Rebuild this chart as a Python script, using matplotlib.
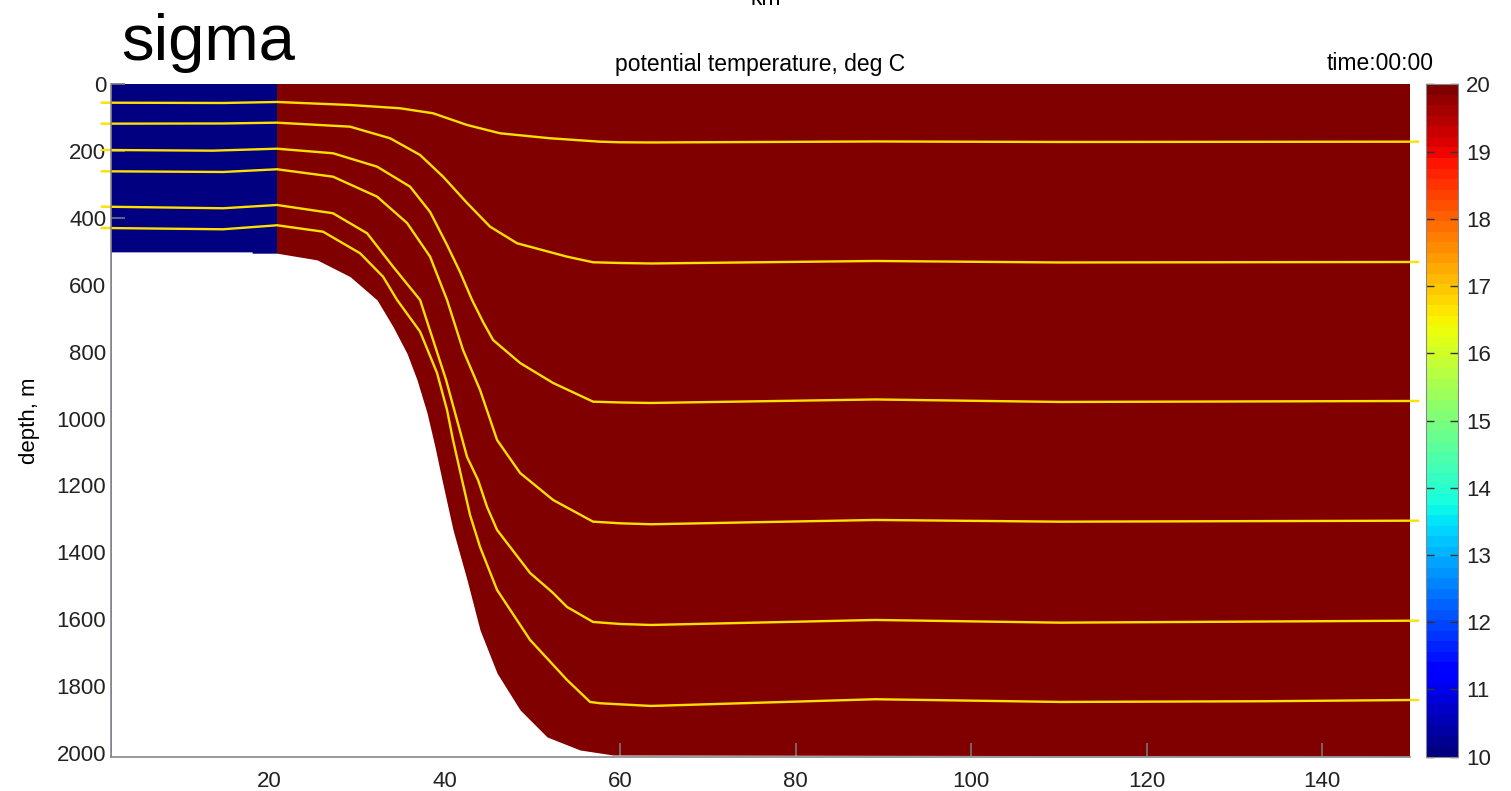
import numpy as np
import matplotlib
matplotlib.use("Agg")
import matplotlib.pyplot as plt

plt.rcParams['font.family'] = ['Liberation Sans', 'DejaVu Sans']

# temperature section: column edges (km) and values (deg C)
section_x = [2.0, 20.85, 150.0]
section_temp = [10, 20]
depth_edges = [0, 2012]

# bottom topography (km, m)
bathy_x = [2.0, 18.07, 18.07, 20.91, 25.47, 29.23, 32.31, 34.13, 35.72, 36.86, 38.0,
           38.91, 39.71, 40.96, 42.56, 44.04, 45.98, 48.6, 51.68, 55.43, 59.2, 150.0]
bathy_d = [501, 501, 505, 505, 525, 575, 645, 725, 805, 884, 983,
           1085, 1184, 1333, 1483, 1633, 1762, 1872, 1953, 1992, 2007, 2010]

# sigma levels
s1_x = [0.94, 14.76, 20.91, 29.23, 34.93, 38.69, 42.56, 46.32, 52.02, 57.71, 59.99, 63.52, 89.05, 110.12, 150.91]
s1_d = [54.5, 55.4, 52.4, 61.4, 71.2, 86.2, 121.2, 146.1, 161.0, 171.2, 173.0, 173.6, 170.6, 172.1, 171.2]

s2_x = [0.94, 14.76, 20.91, 29.23, 33.79, 37.21, 39.83, 42.56, 45.18, 48.26, 53.95, 56.92, 59.99, 63.52, 89.05, 110.12, 150.91]
s2_d = [117.3, 116.7, 114.3, 126.3, 161.0, 211.0, 276.0, 354.7, 425.6, 475.3, 515.4, 532.2, 534.3, 535.8, 528.3, 532.8, 531.3]

s3_x = [0.94, 13.62, 20.91, 27.29, 32.31, 36.07, 38.35, 40.28, 41.76, 43.13, 44.38, 45.52, 48.60, 52.36, 56.92, 59.99, 63.52, 89.05, 110.12, 150.91]
s3_d = [196.0, 198.1, 192.2, 205.9, 246.0, 305.9, 381.6, 480.4, 561.2, 645.0, 710.8, 764.7, 833.6, 893.4, 949.4, 951.8, 953.3, 942.8, 950.3, 947.3]

s4_x = [0.94, 14.76, 20.91, 27.29, 32.31, 35.72, 38.35, 40.28, 42.10, 44.04, 45.98, 48.60, 52.36, 56.92, 59.99, 63.52, 75.14, 89.05, 110.12, 150.91]
s4_d = [259.8, 261.9, 253.8, 276.0, 335.8, 414.5, 515.4, 645.0, 794.7, 914.4, 1064.1, 1162.8, 1243.6, 1308.6, 1313.4, 1316.4, 1310.4, 1303.5, 1308.6, 1305.6]

s5_x = [0.94, 14.76, 20.91, 27.29, 31.17, 34.13, 37.21, 38.69, 40.17, 42.56, 43.81, 44.84, 45.98, 48.60, 49.74, 52.36, 53.95, 56.92, 59.99, 63.52, 89.05, 110.12, 150.91]
s5_d = [365.7, 370.5, 360.7, 385.5, 445.4, 545.3, 645.0, 764.7, 884.4, 1114.9, 1183.8, 1264.6, 1333.4, 1423.2, 1462.1, 1522.0, 1563.9, 1608.8, 1614.8, 1617.8, 1602.8, 1610.9, 1604.9]

s6_x = [0.94, 14.76, 20.91, 26.15, 30.37, 32.99, 34.59, 37.21, 39.14, 40.28, 40.96, 41.99, 42.90, 44.04, 45.98, 49.74, 53.95, 56.57, 57.71, 63.52, 89.05, 110.12, 133.25, 150.91]
s6_d = [429.5, 433.4, 421.4, 440.6, 505.2, 575.3, 645.0, 739.9, 863.5, 974.3, 1064.1, 1183.8, 1288.5, 1384.3, 1513.0, 1662.6, 1782.3, 1848.2, 1852.1, 1860.2, 1840.1, 1848.2, 1846.1, 1842.2]

xticks = [20, 40, 60, 80, 100, 120, 140]
yticks = list(range(0, 2001, 200))
cticks = list(range(10, 21))

fig = plt.figure(figsize=(15.11, 7.91), dpi=100)
ax = fig.add_axes([0.0735, 0.0434, 0.8597, 0.8498])

cmap = plt.get_cmap('jet', 64)
pm = ax.pcolormesh(section_x, depth_edges, np.array([section_temp]), cmap=cmap, vmin=10, vmax=20)
ax.fill_between(bathy_x, bathy_d, depth_edges[1], color='white', lw=0, zorder=2)

for sx, sd in [(s1_x, s1_d), (s2_x, s2_d), (s3_x, s3_d), (s4_x, s4_d), (s5_x, s5_d), (s6_x, s6_d)]:
    ax.plot(sx, sd, color='#FFE000', lw=1.7, zorder=3, clip_on=False)

ax.set_xlim(2, 150)
ax.set_ylim(depth_edges[1], 0)
ax.set_xticks(xticks)
ax.set_yticks(yticks)
for s in ['top', 'right']:
    ax.spines[s].set_visible(False)
for s in ['left', 'bottom']:
    ax.spines[s].set_color('#888888')
    ax.spines[s].set_linewidth(1.2)
    ax.spines[s].set_zorder(4)
ax.tick_params(direction='in', length=10, width=1.2, color='#777777', labelsize=16, labelcolor='#222222')
ax.tick_params(axis='x', pad=10)
ax.set_ylabel('depth, m', fontsize=16, labelpad=12)

ax.set_title('potential temperature, deg C', fontsize=16.5, pad=10)
fig.text(0.9485, 1 - 70 / 791, 'time:00:00', ha='right', va='baseline', fontsize=16.5)
fig.text(0.0805, 1 - 60 / 791, 'sigma', ha='left', va='baseline', fontsize=47)
fig.text(0.507, 1 - 5 / 791, 'km', ha='center', va='baseline', fontsize=16.5)

cax = fig.add_axes([1426 / 1511, 0.0434, 32 / 1511, 0.8498])
cb = fig.colorbar(pm, cax=cax, ticks=cticks)
cb.outline.set_edgecolor('#888888')
cax.tick_params(direction='in', left=True, right=True, length=6, width=1, color='#333333',
                labelsize=16, labelcolor='#222222', pad=6)

fig.savefig('out.png', dpi=100)
